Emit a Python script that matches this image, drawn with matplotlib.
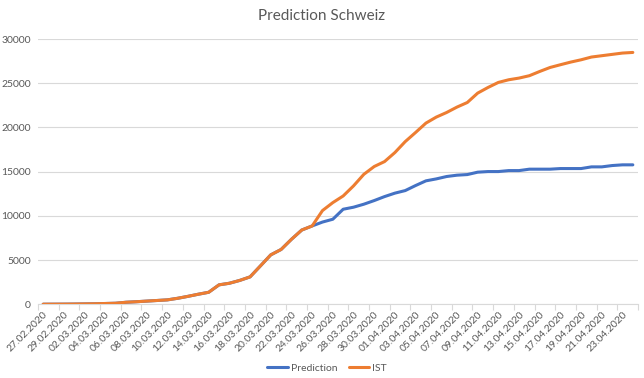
import matplotlib
matplotlib.use("Agg")
import matplotlib.pyplot as plt
import numpy as np
import datetime as dt

plt.rcParams['font.family'] = ['Lato', 'DejaVu Sans']

start = dt.date(2020, 2, 27)
dates = [(start + dt.timedelta(days=k)).strftime("%d.%m.%Y") for k in range(58)]

ist = [10, 15, 20, 30, 45, 60, 90, 120, 230, 290,
       360, 430, 500, 680, 900, 1140, 1360, 2200, 2380, 2700,
       3100, 4340, 5590, 6200, 7350, 8400, 8860, 10600, 11500, 12250,
       13390, 14700, 15580, 16140, 17160, 18400, 19430, 20490, 21170, 21690,
       22300, 22820, 23880, 24520, 25090, 25390, 25580, 25850, 26330, 26780,
       27090, 27390, 27650, 27960, 28110, 28260, 28410, 28480]

prediction = ist[:26] + [8860, 9300, 9620, 10750, 10980, 11320, 11730, 12180, 12570, 12860,
                         13430, 13960, 14180, 14450, 14600, 14670, 14940, 15010, 15010, 15120,
                         15120, 15280, 15280, 15280, 15350, 15350, 15350, 15540, 15540, 15690,
                         15770, 15770]

yticks = [0, 5000, 10000, 15000, 20000, 25000, 30000]

fig = plt.figure(figsize=(6.44, 3.78), dpi=100)
ax = fig.add_axes([38/644, 1-304.3/378, 600/644, (304.3-39)/378])

x = np.arange(len(dates))
ax.plot(x, prediction, color='#4472C4', lw=2.2, label='Prediction', solid_capstyle='round', zorder=3)
ax.plot(x, ist, color='#ED7D31', lw=2.2, label='IST', solid_capstyle='round', zorder=4)

ax.set_xlim(-0.5, len(dates) - 0.5)
ax.set_ylim(0, 30000)
ax.set_yticks(yticks)
ax.set_yticklabels([str(v) for v in yticks])
ax.tick_params(axis='y', length=0, pad=5, labelsize=7.5, labelcolor='#595959')
ax.yaxis.grid(True, color='#d9d9d9', lw=0.8)
ax.set_axisbelow(True)

ax.set_xticks(x[::2])
ax.set_xticklabels(dates[::2], rotation=45, ha='right', va='top', rotation_mode='anchor')
ax.tick_params(axis='x', which='major', length=0, pad=4, labelsize=7.5, labelcolor='#595959')
ax.set_xticks(np.arange(-0.5, len(dates), 2), minor=True)
ax.tick_params(axis='x', which='minor', length=4, color='#d9d9d9', width=0.8)

for s in ['top', 'right', 'left']:
    ax.spines[s].set_visible(False)
ax.spines['bottom'].set_color('#d9d9d9')
ax.spines['bottom'].set_linewidth(0.8)

fig.text(0.5, 1-16/378, 'Prediction Schweiz', ha='center', va='center', fontsize=11, color='#595959')

fig.legend(loc='center', bbox_to_anchor=(327/644, 1-368/378), ncol=2, frameon=False,
           fontsize=7.5, labelcolor='#595959', handlelength=2.0, columnspacing=1.1, handletextpad=0.25)

fig.savefig('out.png', dpi=100, facecolor='white')
